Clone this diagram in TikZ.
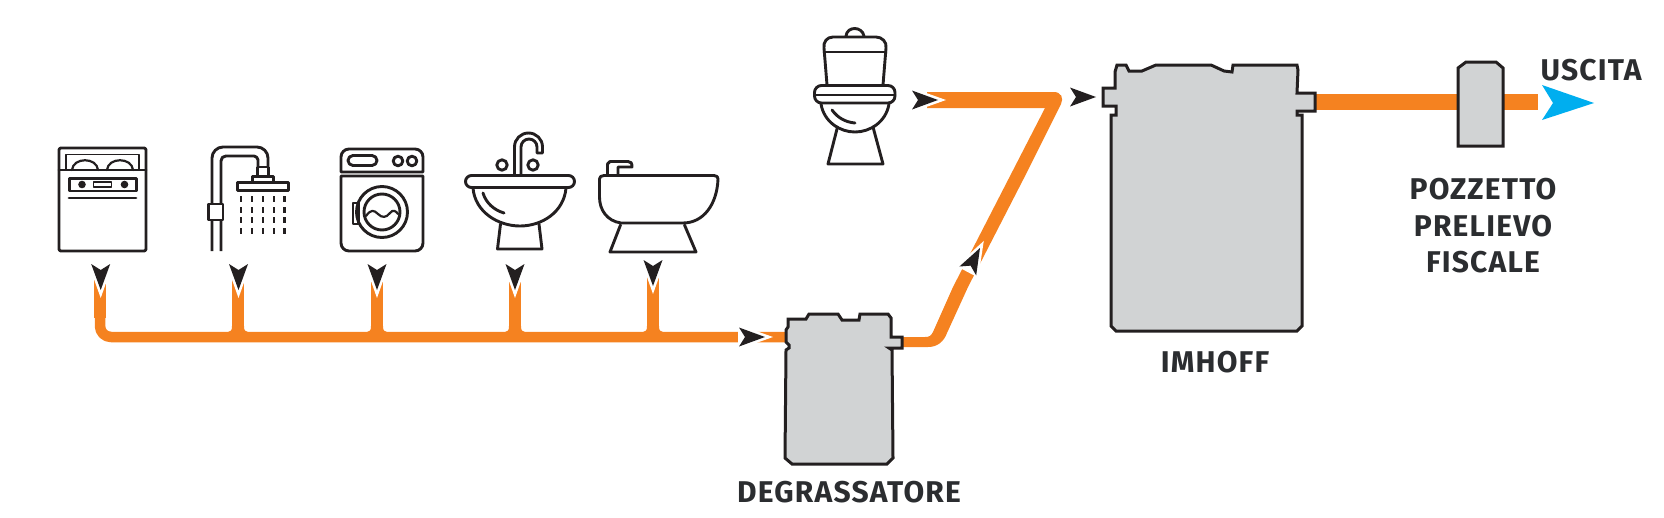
\documentclass[tikz,border=0pt]{standalone}
\usepackage{fontspec}
\setmainfont{Fira Sans}[LetterSpace=4.0]
\definecolor{ink}{HTML}{231F20}
\definecolor{pipe}{HTML}{F58220}
\definecolor{tank}{HTML}{D1D3D4}
\definecolor{outflow}{HTML}{00AEEF}
\definecolor{lab}{HTML}{2B2D30}
\tikzset{
  icon/.style={draw=ink,line width=2.9pt,line join=round,line cap=round,fill=none},
  tankshape/.style={draw=ink,fill=tank,line width=3pt,line join=miter},
  pipeline/.style={draw=pipe,line width=11pt,line join=round},
  lbl/.style={font=\bfseries\fontsize{30}{30}\selectfont,text=lab,inner sep=0pt,align=center},
}
\newcommand{\flowhead}[3]{%
  \begin{scope}[shift={(#1,#2)},rotate=#3]
    \fill[white] (8,0) -- (-27,-12.4) -- (-27,12.4) -- cycle;
    \fill[ink] (0,0) -- (-26,-9.5) -- (-20,0) -- (-26,9.5) -- cycle;
  \end{scope}}
\newcommand{\flare}[1]{\fill[pipe] (#1-6,326) -- (#1-6,332) -- (#1-10,332) .. controls (#1-7,332) and (#1-6,330) .. cycle
  (#1+6,326) -- (#1+6,332) -- (#1+10,332) .. controls (#1+7,332) and (#1+6,330) .. cycle;}
\begin{document}
\begin{tikzpicture}[x=1pt,y=-1pt]
\useasboundingbox (0,0) rectangle (1664,517);
% named anchors of the connectors
\coordinate (dish) at (100,280);
\coordinate (shower) at (238,280);
\coordinate (washer) at (377,280);
\coordinate (sink) at (515,280);
\coordinate (bidet) at (653,276);
\coordinate (corner) at (100,337);
\coordinate (degIn) at (790,337);
\coordinate (imhoffOut) at (1312,102);
\coordinate (exit) at (1538,102);
% pipes
\draw[pipeline,line width=10.5pt,rounded corners=11pt] (100,310) -- (corner) -- (degIn);
\draw[pipeline,line width=12pt] (dish) -- (100,318);
\foreach \p in {shower,washer,sink,bidet}{\draw[pipeline,line width=12pt] (\p) -- (\p |- corner);}
\flare{238}\flare{377}\flare{515}\flare{653}
% degreaser to imhoff, with the toilet branch
\fill[pipe] (898,337) -- (925,337) .. controls (929,337) and (931,336) .. (933,332) -- (953,287) -- (1009,178) -- (1045,108) -- (927,108) -- (927,92) -- (1054,92) .. controls (1061,92) and (1064,98) .. (1061,104) -- (1024,178) -- (968,287) -- (947,333) .. controls (944,341) and (938,347) .. (928,347) -- (898,347) -- cycle;
\draw[pipe,line width=16pt] (imhoffOut) -- (exit);
% arrowheads
\flowhead{100.7}{290}{-90}
\flowhead{238.5}{290}{-90}
\flowhead{377}{290}{-90}
\flowhead{515}{290}{-90}
\flowhead{653}{286}{-90}
\flowhead{765}{337}{0}
\flowhead{938}{100}{0}
\flowhead{1096}{97}{0}
\flowhead{980}{248}{62}
\fill[outflow] (1594,103) -- (1542,85) -- (1553,103) -- (1542,120) -- cycle;
% degreaser
\draw[tankshape] (788,319) -- (806,319) -- (809,314) -- (838,314) -- (842,320) -- (859,320) -- (860,314) -- (888,314) -- (891,318) -- (891,337) -- (902,337) -- (902,348) -- (889,348) -- (892,350) -- (893,458) -- (887,464) -- (792,464) -- (785,458) -- (786,350) -- (789,348) -- (789,345) -- (786,342) -- (786,330) -- (788,327) -- cycle;
% imhoff
\draw[tankshape] (1115,72) -- (1117,65) -- (1126,65) -- (1129,71) -- (1142,71) -- (1156,65) -- (1211,65) -- (1224,71) -- (1232,72) -- (1233,65) -- (1297,65) -- (1298,70) -- (1297,93) -- (1315,93) -- (1315,111) -- (1297,111) -- (1297,115) -- (1302,115) -- (1302,326) -- (1297,331) -- (1116,331) -- (1111,326) -- (1111,115) -- (1116,115) -- (1116,106) -- (1103,106) -- (1103,88) -- (1115,88) -- cycle;
% pozzetto
\draw[tankshape] (1458,68) -- (1466,62) -- (1496,62) -- (1503,68) -- (1503,146) -- (1458,146) -- cycle;
\begin{scope}[icon]
% dishwasher
\draw[rounded corners=2pt] (59,148) rectangle (146,251);
\draw[line width=1.8pt] (66,170) -- (66,154.5) -- (139,154.5) -- (139,170);
\draw (59,170) -- (146,170);
\draw[line width=2.2pt] (72,170) .. controls (73,157) and (97,157) .. (98,170);
\draw[line width=2.2pt] (107,170) .. controls (108,157) and (132,157) .. (133,170);
\draw (69.5,178.5) rectangle (136.5,191);
\fill[ink] (82,184.5) circle (3.8) (124.5,184.5) circle (3.8);
\draw[line width=1.6pt] (93.5,182) rectangle (111.5,187);
\draw (69,198) -- (136,198);
% shower
\draw[line cap=butt] (212,251) -- (212,158) .. controls (212,152) and (217,147) .. (223,147) -- (257,147) .. controls (263,147) and (268,152) .. (268,158) -- (268,166);
\draw[line cap=butt] (221,251) -- (221,161) .. controls (221,158) and (223,156) .. (226,156) -- (254,156) .. controls (256,156) and (258,158) .. (258,160) -- (258,166);
\draw[fill=white] (257.5,176) -- (257.5,167) -- (268.5,167) -- (268.5,176);
\draw[fill=white] (252.5,182) -- (252.5,176.5) -- (273.5,176.5) -- (273.5,182);
\draw[fill=white] (237.5,182.5) rectangle (288.5,190.5);
\draw[fill=white] (208.5,204) rectangle (223,220);
\foreach \dx in {241,252,263,274,284.5}\foreach \dy in {199,210,220,231}{\fill[ink] (\dx-1.4,\dy-2.7) rectangle (\dx+1.4,\dy+2.7);}
% washer
\draw (341,172) -- (341,157) .. controls (341,152.6) and (344.6,149) .. (349,149) -- (415,149) .. controls (419.4,149) and (423,152.6) .. (423,157) -- (423,172) -- cycle;
\draw (341,176) -- (423,176) -- (423,243) .. controls (423,247.4) and (419.4,251) .. (415,251) -- (349,251) .. controls (344.6,251) and (341,247.4) .. (341,243) -- cycle;
\draw[rounded corners=5pt] (348,155.5) rectangle (377,165.5);
\draw (398,161) circle (4.8) (412,161) circle (4.8);
\draw (382,212) circle (25.5) (382,212) circle (18);
\draw (353,203) rectangle (358.5,224);
\draw[line width=2.2pt] (366,216) .. controls (371,209) and (374,210) .. (378,214) .. controls (382,218) and (386,218) .. (390,213) .. controls (393,209) and (396,211) .. (398,214);
% sink
\draw[rounded corners=6pt] (465.5,175.5) rectangle (574.5,187.5);
\draw (473,188) .. controls (475,212) and (498,226) .. (520,226) .. controls (542,226) and (564,212) .. (566,188);
\draw (483,193) .. controls (486,203) and (494,210) .. (504,213);
\draw (500.5,224) -- (497.5,249) -- (542,249) -- (539,224);
\draw[line cap=butt] (514.5,175) -- (514.5,147) .. controls (514.5,139) and (520.8,133) .. (528.5,133) .. controls (536.2,133) and (542.5,139) .. (542.5,147) -- (542.5,153) -- (537,153) -- (537,147) .. controls (537,142.6) and (533.4,139) .. (529,139) .. controls (524.6,139) and (521,142.6) .. (521,147) -- (521,175);
\draw (502,165) circle (5.2) (533,165) circle (5.2);
% bidet
\draw (604,175.5) -- (714,175.5) .. controls (717,175.5) and (718,177) .. (718,179) .. controls (717,205) and (703,223) .. (683,223) -- (621,223) .. controls (607,221) and (599.5,210) .. (599.5,197) -- (599.5,179) .. controls (599.5,177) and (601,175.5) .. (604,175.5);
\draw (620.5,225) -- (610,252) -- (696,252) -- (684.5,225);
\draw[line cap=butt] (607.5,175) -- (607.5,164) -- (610,161.5) -- (628,161.5) .. controls (631,161.5) and (632,163) .. (632,167) -- (618,167) -- (618,175);
% toilet
\draw (827,85) -- (824,48) .. controls (823,42) and (827,37) .. (833,37) -- (876,37) .. controls (882,37) and (887,42) .. (886,48) -- (883,85);
\draw (824,52) -- (886,52);
\draw (846,36) .. controls (847,26) and (862,26) .. (864,36);
\draw[rounded corners=7pt] (814.5,85.5) rectangle (895,103);
\draw (815,95) -- (895,95);
\draw (821,104) .. controls (824,122) and (840,132) .. (855,132) .. controls (870,132) and (886,122) .. (889,104);
\draw (832,110) .. controls (838,118) and (845,122) .. (855,123);
\draw (837.5,127) -- (828,164) -- (883,164) -- (873,127);
\end{scope}
% labels
\node[lbl] (lblDeg) at (849,492) {DEGRASSATORE};
\node[lbl] (lblImh) at (1215,362) {IMHOFF};
\node[lbl] (lblPoz) at (1483,189) {POZZETTO};
\node[lbl] (lblPre) at (1483,226) {PRELIEVO};
\node[lbl] (lblFis) at (1483,262) {FISCALE};
\node[lbl] (lblOut) at (1591,70) {USCITA};
\end{tikzpicture}
\end{document}
